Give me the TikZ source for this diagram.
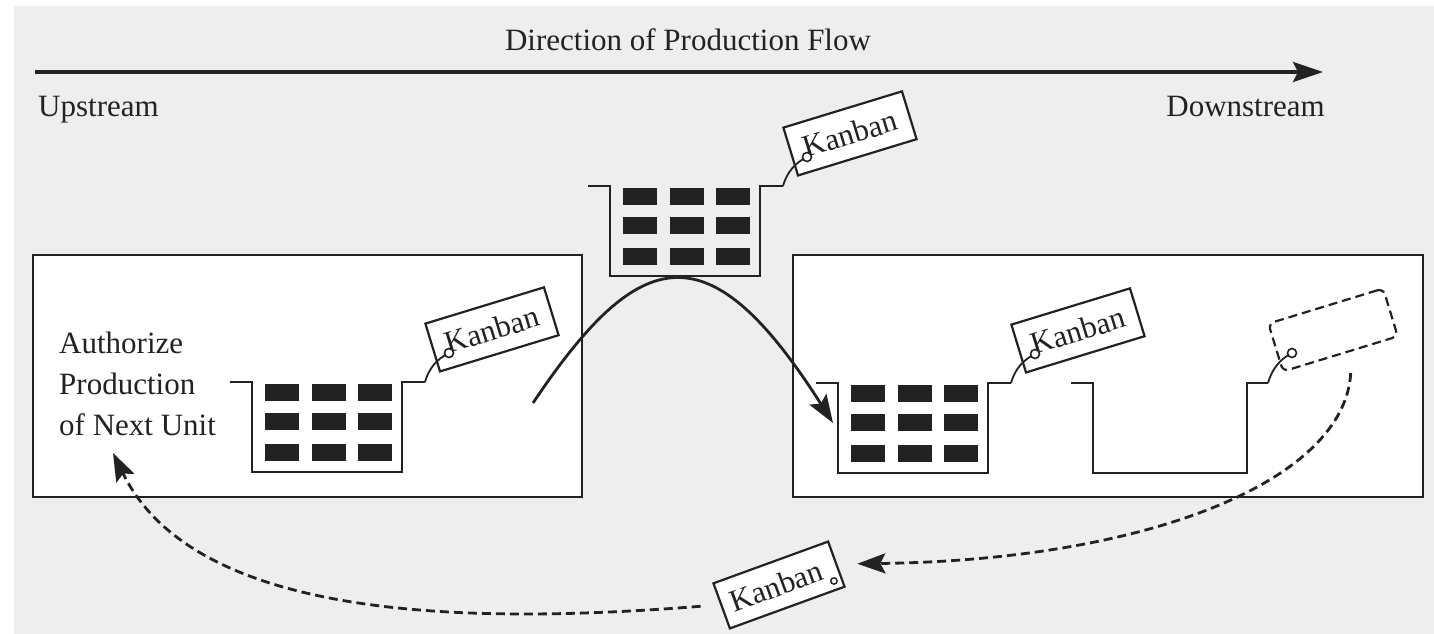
\documentclass[tikz,border=0pt]{standalone}
\usepackage{fontspec}
\setmainfont{Liberation Serif}
\usetikzlibrary{arrows.meta,calc}
\definecolor{ink}{HTML}{222222}
\definecolor{paper}{HTML}{EEEEEE}
\tikzset{
  x=1pt, y=1pt,
  every node/.style={font=\fontsize{31}{41}\selectfont, text=ink},
  station/.style={draw=ink, fill=white, line width=2.6pt},
  binline/.style={draw=ink, line width=2.6pt, line join=miter},
  block/.style={fill=ink},
  tag/.style={draw=ink, fill=white, line width=2.2pt, minimum width=124pt,
              minimum height=50pt, inner sep=0pt},
  dashtag/.style={tag, dash pattern=on 9pt off 5pt, rounded corners=6pt},
  hole/.style={draw=ink, fill=white, line width=1.6pt},
  tagstring/.style={draw=ink, line width=1.8pt},
  flowarrow/.style={draw=ink, line width=3.4pt,
                    -{Stealth[length=30pt,width=20pt,inset=5pt]}},
  movearrow/.style={draw=ink, line width=2.8pt,
                    -{Stealth[length=28pt,width=20pt,inset=5pt]}},
  returnarrow/.style={draw=ink, line width=2.8pt, dash pattern=on 9pt off 5pt,
                    -{Stealth[length=28pt,width=20pt,inset=5pt]}},
  pics/fullbin/.style={code={
    \draw[binline] (-22,0) -- (0,0) -- (0,-90) -- (150,-90) -- (150,0) -- (173,0);
    \coordinate (-end) at (173,0);
    \foreach \cx in {13,60,106}
      \foreach \cy in {-2,-31,-62}
        \fill[block] (\cx,\cy) rectangle ++(34,-17);
  }},
  pics/emptybin/.style={code={
    \draw[binline] (-22,0) -- (0,0) -- (0,-90) -- (154,-90) -- (154,0) -- (175,0);
    \coordinate (-end) at (175,0);
  }},
}
\begin{document}
\begin{tikzpicture}
  % page and backdrop
  \useasboundingbox (0,0) rectangle (1434,-634);
  \fill[white] (0,0) rectangle (1434,-634);
  \fill[paper] (14,-6) rectangle (1434,-634);

  % flow direction
  \coordinate (up) at (35,-72);
  \coordinate (down) at (1323,-72);
  \draw[flowarrow] (up) -- (down);
  \node[anchor=base] (flowlabel) at (688,-51) {Direction of Production Flow};
  \node[anchor=base west, inner sep=0pt] (upstream) at (38,-116) {Upstream};
  \node[anchor=base east, inner sep=0pt] (downstream) at (1325,-116) {Downstream};

  % work stations
  \draw[station] (33,-255) rectangle (582,-497);
  \draw[station] (793,-255) rectangle (1423,-497);
  \node[anchor=north west, align=left, inner sep=0pt] (authorize) at (59,-332)
    {Authorize\\Production\\of Next Unit};

  % containers
  \pic (b1) at (252,-382) {fullbin};
  \pic (b2) at (610,-186) {fullbin};
  \pic (b3) at (838,-383) {fullbin};
  \pic (b4) at (1093,-383) {emptybin};

  % tag holes
  \coordinate (h1) at (449,-353);
  \coordinate (h2) at (807,-157);
  \coordinate (h3) at (1035,-354);
  \coordinate (h4) at (1292,-353);

  % kanban cards attached to the containers
  \begin{scope}[shift={(h1)}, rotate=17]
    \node[tag, transform shape] (k1) at (48,10) {Kanban};
  \end{scope}
  \begin{scope}[shift={(h2)}, rotate=17]
    \node[tag, transform shape] (k2) at (48,10) {Kanban};
  \end{scope}
  \begin{scope}[shift={(h3)}, rotate=17]
    \node[tag, transform shape] (k3) at (48,10) {Kanban};
  \end{scope}
  \begin{scope}[shift={(h4)}, rotate=17]
    \node[dashtag, transform shape, minimum width=120pt] (k4) at (46,10) {};
  \end{scope}

  \foreach \b/\h in {b1/h1, b2/h2, b3/h3, b4/h4} {
    \draw[tagstring] (\b-end) .. controls +(4,14) and +(-12,-6) .. (\h);
    \draw[hole] (\h) circle (4.5);
  }

  % container moved downstream
  \coordinate (lift) at (533,-403);
  \coordinate (drop) at (833,-423);
  \draw[movearrow] (lift) .. controls (640,-243) and (709,-228) .. (drop);

  % kanban returned upstream
  \node[tag, rotate=20, minimum width=122pt, minimum height=48pt] (k5) at (779,-585)
    {\hspace*{-6pt}Kanban};
  \coordinate (k5hole) at ($(k5.center)+(20:53)+(110:-15)$);
  \draw[hole, line width=1.4pt] (k5hole) circle (3.2);
  \coordinate (pull) at ($(k4.south)+(10,-18)$);
  \coordinate (authorize tip) at (113,-453);
  \draw[returnarrow] (pull) .. controls (1345,-480) and (1150,-560) .. ([xshift=20pt]k5.east);
  \draw[returnarrow] ([xshift=-20pt]k5.west) .. controls (430,-628) and (190,-610) .. (authorize tip);
\end{tikzpicture}
\end{document}
